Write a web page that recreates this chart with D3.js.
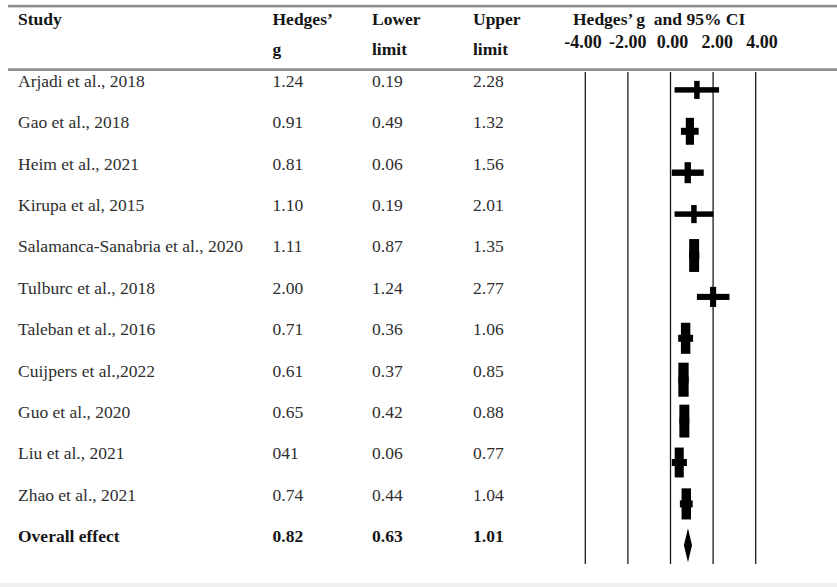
<!DOCTYPE html>
<html>
<head>
<meta charset="utf-8">
<script src="https://cdn.jsdelivr.net/npm/d3@7"></script>
<style>
  html, body { margin: 0; padding: 0; background: #fff; }
  svg { display: block; }
  text { font-family: "Liberation Serif", "Times New Roman", serif; }
</style>
</head>
<body>
<svg id="chart" width="837" height="587"></svg>
<script>
// ---- data ----
const studies = [
  "Arjadi et al., 2018",
  "Gao et al., 2018",
  "Heim et al., 2021",
  "Kirupa et al, 2015",
  "Salamanca-Sanabria et al., 2020",
  "Tulburc et al., 2018",
  "Taleban et al., 2016",
  "Cuijpers et al.,2022",
  "Guo et al., 2020",
  "Liu et al., 2021",
  "Zhao et al., 2021"
];
const hedgesG = [1.24, 0.91, 0.81, 1.10, 1.11, 2.00, 0.71, 0.61, 0.65, 0.41, 0.74];
const hedgesLabels = ["1.24", "0.91", "0.81", "1.10", "1.11", "2.00", "0.71", "0.61", "0.65", "041", "0.74"];
const lowerLimit = [0.19, 0.49, 0.06, 0.19, 0.87, 1.24, 0.36, 0.37, 0.42, 0.06, 0.44];
const upperLimit = [2.28, 1.32, 1.56, 2.01, 1.35, 2.77, 1.06, 0.85, 0.88, 0.77, 1.04];
const relWeight = [6.1, 9.1, 7.1, 6.1, 11.1, 6.8, 10.5, 11.5, 11.1, 10.1, 10.5];
const overallLabel = "Overall effect";
const overall = { g: 0.82, lower: 0.63, upper: 1.01 };
const overallLabels = ["0.82", "0.63", "1.01"];
const axisTicks = [-4, -2, 0, 2, 4];
const tickLabels = ["-4.00", "-2.00", "0.00", "2.00", "4.00"];
const headers = { study: "Study", g: ["Hedges\u2019", "g"], lower: ["Lower", "limit"], upper: ["Upper", "limit"], plot: "Hedges\u2019 g  and 95% CI" };

// ---- layout ----
const svg = d3.select("#chart");
const W = 837, H = 587;
const rows = studies.concat([overallLabel]);
const yText = d3.scalePoint().domain(rows).range([80.7, 536.1]);
const markOffset = 9.2;
const x = d3.scaleLinear().domain([-4, 4]).range([585.3, 755.7]);
const xLabel = d3.scaleLinear().domain([-4, 4]).range([583, 762]);
const wToH = d3.scaleLinear().domain([0, 10]).range([0, 29.6]);
const col = { study: 18, g: 272.5, lower: 372, upper: 473 };
const fs = 17.5;
const bodyColor = "#2e2e2e";
const headColor = "#151515";

svg.append("rect").attr("width", W).attr("height", H).attr("fill", "#fff");

// header rules
svg.append("rect").attr("x", 8).attr("y", 4.8).attr("width", W - 8).attr("height", 2.6).attr("fill", "#8c8c8c");
svg.append("rect").attr("x", 8).attr("y", 68.3).attr("width", W - 8).attr("height", 2.6).attr("fill", "#8c8c8c");
svg.append("rect").attr("x", 0).attr("y", 583).attr("width", W).attr("height", 4).attr("fill", "#efefef");

// header text
const hd = svg.append("g").attr("font-weight", "bold").attr("font-size", fs).attr("fill", headColor);
hd.append("text").attr("x", col.study).attr("y", 19).attr("dy", "0.35em").text(headers.study);
[["g", col.g], ["lower", col.lower], ["upper", col.upper]].forEach(([k, cx]) => {
  hd.append("text").attr("x", cx).attr("y", 19).attr("dy", "0.35em").text(headers[k][0]);
  hd.append("text").attr("x", cx).attr("y", 49).attr("dy", "0.35em").text(headers[k][1]);
});
hd.append("text").attr("x", 573).attr("y", 18.5).attr("dy", "0.35em")
  .style("white-space", "pre").text(headers.plot);
hd.selectAll("text.tick").data(axisTicks).join("text").attr("class", "tick")
  .attr("x", d => xLabel(d)).attr("y", 41.5).attr("dy", "0.35em")
  .attr("font-size", 18)
  .attr("text-anchor", "middle").text((d, i) => tickLabels[i]);

// body text
const body = svg.append("g").attr("font-size", fs).attr("fill", bodyColor);
studies.forEach((s, i) => {
  const y = yText(s);
  body.append("text").attr("x", col.study).attr("y", y).attr("dy", "0.35em").text(s);
  body.append("text").attr("x", col.g).attr("y", y).attr("dy", "0.35em").text(hedgesLabels[i]);
  body.append("text").attr("x", col.lower).attr("y", y).attr("dy", "0.35em").text(d3.format(".2f")(lowerLimit[i]));
  body.append("text").attr("x", col.upper).attr("y", y).attr("dy", "0.35em").text(d3.format(".2f")(upperLimit[i]));
});
const ov = svg.append("g").attr("font-size", fs).attr("font-weight", "bold").attr("fill", headColor);
const yo = yText(overallLabel);
ov.append("text").attr("x", col.study).attr("y", yo).attr("dy", "0.35em").text(overallLabel);
[col.g, col.lower, col.upper].forEach((cx, j) => {
  ov.append("text").attr("x", cx).attr("y", yo).attr("dy", "0.35em").text(overallLabels[j]);
});

// grid lines
svg.append("g").selectAll("line").data(axisTicks).join("line")
  .attr("x1", d => x(d)).attr("x2", d => x(d))
  .attr("y1", 72).attr("y2", 564)
  .attr("stroke", "#1a1a1a").attr("stroke-width", 1.3);

// study markers
const mk = svg.append("g").attr("fill", "#000");
studies.forEach((s, i) => {
  const cy = yText(s) + markOffset;
  const bh = wToH(relWeight[i]);
  const bw = bh / 3.3;
  const th = Math.min(bw, 7);
  mk.append("rect").attr("x", x(lowerLimit[i])).attr("y", cy - th / 2)
    .attr("width", x(upperLimit[i]) - x(lowerLimit[i])).attr("height", th);
  mk.append("rect").attr("x", x(hedgesG[i]) - bw / 2).attr("y", cy - bh / 2)
    .attr("width", bw).attr("height", bh);
});
// overall diamond
const cyo = yo + markOffset;
mk.append("path").attr("d", d3.line()([
  [x(overall.lower), cyo], [x(overall.g), cyo - 17], [x(overall.upper), cyo], [x(overall.g), cyo + 17]
]) + "Z");
</script>
</body>
</html>
